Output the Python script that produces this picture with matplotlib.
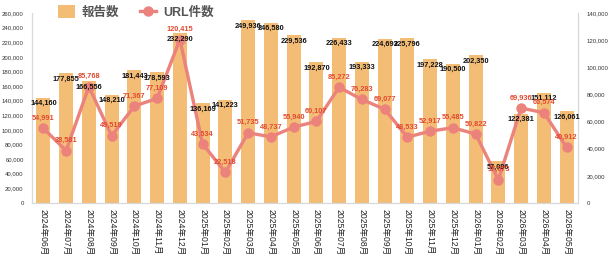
import matplotlib
matplotlib.use("Agg")
import matplotlib.pyplot as plt
from matplotlib.lines import Line2D
from matplotlib.patches import Patch

months = ["2024年06月", "2024年07月", "2024年08月", "2024年09月", "2024年10月", "2024年11月",
          "2024年12月", "2025年01月", "2025年02月", "2025年03月", "2025年04月", "2025年05月",
          "2025年06月", "2025年07月", "2025年08月", "2025年09月", "2025年10月", "2025年11月",
          "2025年12月", "2026年01月", "2026年02月", "2026年03月", "2026年04月", "2026年05月"]
reports = [144160, 177855, 166556, 148210, 181443, 178593, 232290, 136169, 141223, 249936,
           246580, 229536, 192870, 226433, 193333, 224693, 225796, 197228, 190500, 202350,
           57096, 122381, 151112, 126061]
urls = [54991, 38581, 85768, 49519, 71367, 77109, 120415, 43534, 22518, 51735,
        48737, 55940, 60107, 85272, 76283, 69077, 48533, 52917, 55485, 50822,
        17073, 69936, 66574, 40912]
left_ticks = list(range(0, 260001, 20000))
right_ticks = list(range(0, 140001, 20000))

BAR = "#F4BD76"
LINE = "#EC827C"
RED = "#E2492F"
FONT = ["Liberation Sans", "DejaVu Sans"]
CJK = ["Liberation Sans", "Noto Sans CJK JP"]

W, H = 610, 260
fig = plt.figure(figsize=(W / 100, H / 100), dpi=100)
L, R, T, B = 32, 578, 13, 203
ax = fig.add_axes([L / W, (H - B) / H, (R - L) / W, (B - T) / H])
x = list(range(len(months)))
ax.bar(x, reports, width=0.62, color=BAR, zorder=1)
ax.set_xlim(-0.5, len(months) - 0.5)
ax.set_ylim(0, 260000)
ax.set_yticks(left_ticks)
ax.set_yticklabels([f"{v:,}" for v in left_ticks], family=FONT, fontsize=4.3, color="#333333")
ax.set_xticks(x)
ax.set_xticklabels(months, rotation=270, family=CJK, fontsize=6.2, color="#222222",
                   ha="center", va="top")
ax.tick_params(axis="both", length=0)
ax.tick_params(axis="y", pad=6)
ax.tick_params(axis="x", pad=4)
ax.spines["top"].set_visible(False)
for s in ["left", "right", "bottom"]:
    ax.spines[s].set_color("#D8D8D8")
    ax.spines[s].set_linewidth(0.8)

ax2 = ax.twinx()
ax2.plot(x, urls, color=LINE, lw=2.4, marker="o", ms=6.5, zorder=3)
ax2.set_ylim(0, 140000)
ax2.set_yticks(right_ticks)
ax2.set_yticklabels([f"{v:,}" for v in right_ticks], family=FONT, fontsize=4.3, color="#333333")
ax2.tick_params(axis="y", length=0, pad=6)
ax2.spines["top"].set_visible(False)
for s in ["left", "right", "bottom"]:
    ax2.spines[s].set_color("#D8D8D8")
    ax2.spines[s].set_linewidth(0.8)

for i, v in enumerate(reports):
    ax2.annotate(f"{v:,}", (i, v * 140000 / 260000), xytext=(0, -6), textcoords="offset pixels",
                 ha="center", va="center", fontsize=5.3, fontweight="bold", family=FONT,
                 color="#111111", zorder=5)
for i, v in enumerate(urls):
    ax2.annotate(f"{v:,}", (i, v), xytext=(0, 10), textcoords="offset pixels",
                 ha="center", va="center", fontsize=5.3, fontweight="bold", family=FONT,
                 color=RED, zorder=6)

handles = [Patch(facecolor=BAR, edgecolor="none"),
           Line2D([0], [0], color=LINE, lw=2.4, marker="o", ms=6.5)]
fig.legend(handles, ["報告数", "URL件数"], loc="center left", bbox_to_anchor=(52 / W, 1 - 12 / H),
           ncol=2, frameon=False, prop={"family": ["Liberation Sans", "Noto Sans CJK JP"],
                                         "size": 9, "weight": "bold"},
           labelcolor="#555555", handlelength=1.3, handleheight=1.2, columnspacing=1.6,
           handletextpad=0.6, borderpad=0)

fig.savefig("out.png", dpi=100)
